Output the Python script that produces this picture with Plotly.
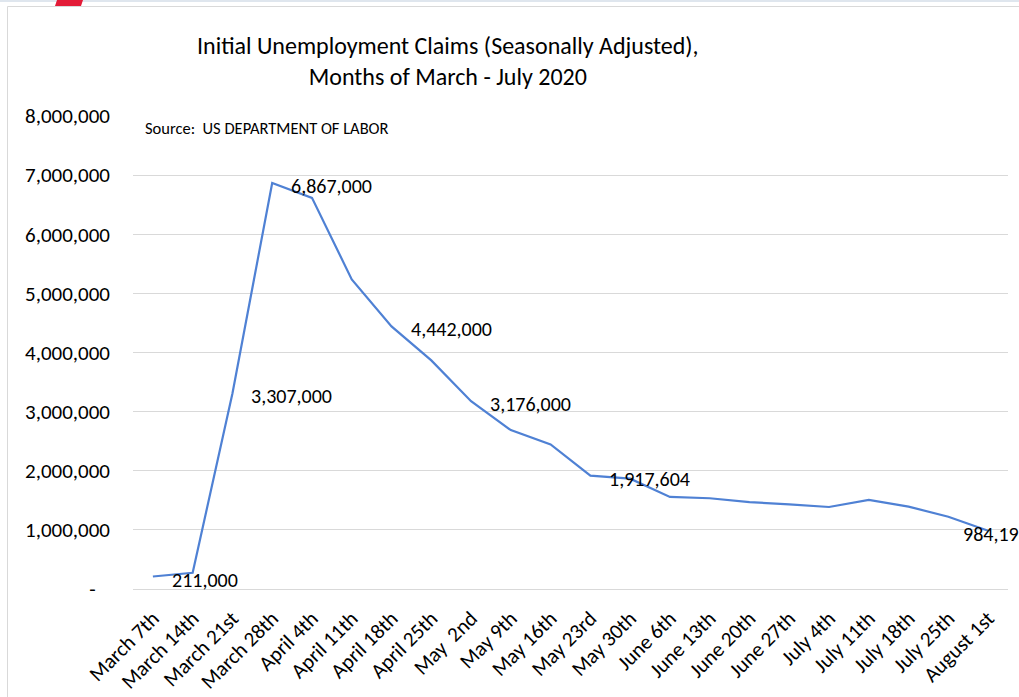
import plotly.graph_objects as go

weeks = ["March 7th", "March 14th", "March 21st", "March 28th", "April 4th", "April 11th",
         "April 18th", "April 25th", "May  2nd", "May 9th", "May 16th", "May 23rd",
         "May 30th", "June 6th", "June 13th", "June 20th", "June 27th", "July 4th",
         "July 11th", "July 18th", "July 25th", "August 1st"]
claims = [211000, 275000, 3307000, 6867000, 6615000, 5237000, 4442000, 3867000,
          3176000, 2687000, 2446000, 1917604, 1866000, 1557000, 1535000, 1470000,
          1430000, 1387000, 1506000, 1393000, 1223000, 984192]
label_idx = [0, 2, 3, 6, 8, 11, 21]
y_ticks = [0, 1000000, 2000000, 3000000, 4000000, 5000000, 6000000, 7000000, 8000000]
y_tick_labels = ["-\u00a0\u00a0\u00a0", "1,000,000", "2,000,000", "3,000,000", "4,000,000",
                 "5,000,000", "6,000,000", "7,000,000", "8,000,000"]
title_lines = ["Initial Unemployment Claims (Seasonally Adjusted),", "Months of March - July 2020"]
source_text = "Source:  US DEPARTMENT OF LABOR"

FONT = "Carlito, Calibri, Lato, sans-serif"
W, H = 1019, 697
L, R, T, B = 133, 1008, 116, 589


def px(x):
    return (x - L) / (R - L)


def py(y):
    return (B - y) / (B - T)


fig = go.Figure()
fig.add_trace(go.Scatter(x=weeks, y=claims, mode="lines",
                         line=dict(color="#4f81d4", width=2.2),
                         hoverinfo="x+y", showlegend=False))

for k, i in enumerate(label_idx):
    last = i == len(claims) - 1
    fig.add_annotation(x=weeks[i], y=claims[i], text=f"{claims[i]:,}",
                       showarrow=False, xanchor="left", yanchor="middle",
                       xshift=-27 if last else 17, yshift=-3,
                       font=dict(family=FONT, size=20, color="#000000"))

fig.add_annotation(xref="paper", yref="paper", x=px(143), y=py(128), text=source_text,
                   showarrow=False, xanchor="left", yanchor="middle",
                   font=dict(family=FONT, size=16.5, color="#000000"))

fig.add_annotation(xref="paper", yref="paper", x=px(448), y=py(61),
                   text="<br>".join(title_lines), showarrow=False,
                   xanchor="center", yanchor="middle", align="center",
                   font=dict(family=FONT, size=24, color="#000000"))

# frame decorations
fig.add_shape(type="rect", xref="paper", yref="paper", x0=px(0), x1=px(W), y0=py(2), y1=py(0),
              line=dict(width=0), fillcolor="#dfe6ee", layer="below")
fig.add_shape(type="line", xref="paper", yref="paper", x0=px(7.5), x1=px(W + 5), y0=py(6.5), y1=py(6.5),
              line=dict(color="#d9d9d9", width=1))
fig.add_shape(type="line", xref="paper", yref="paper", x0=px(7.5), x1=px(7.5), y0=py(6.5), y1=py(H + 5),
              line=dict(color="#d9d9d9", width=1))
fig.add_shape(type="path", xref="paper", yref="paper",
              path=f"M {px(57)} {py(0)} L {px(83)} {py(0)} L {px(81)} {py(6)} L {px(55)} {py(6)} Z",
              line=dict(width=0), fillcolor="#e31b37")

fig.update_layout(
    width=W, height=H,
    margin=dict(l=L, r=W - R, t=T, b=H - B, autoexpand=False),
    paper_bgcolor="white", plot_bgcolor="white",
    font=dict(family=FONT, color="#000000"),
    xaxis=dict(type="category", range=[-0.5, len(weeks) - 0.5], tickangle=-45,
               showgrid=False, showline=False, zeroline=False, ticks="", automargin=False,
               tickfont=dict(size=21), ticklabelstandoff=12),
    yaxis=dict(range=[0, 8000000], tickvals=y_ticks, ticktext=y_tick_labels,
               showgrid=True, gridcolor="#d9d9d9", gridwidth=1, automargin=False,
               zeroline=True, zerolinecolor="#d9d9d9", zerolinewidth=1,
               showline=False, ticks="", tickfont=dict(size=21), ticklabelstandoff=22),
)

fig.write_html("out.html")
